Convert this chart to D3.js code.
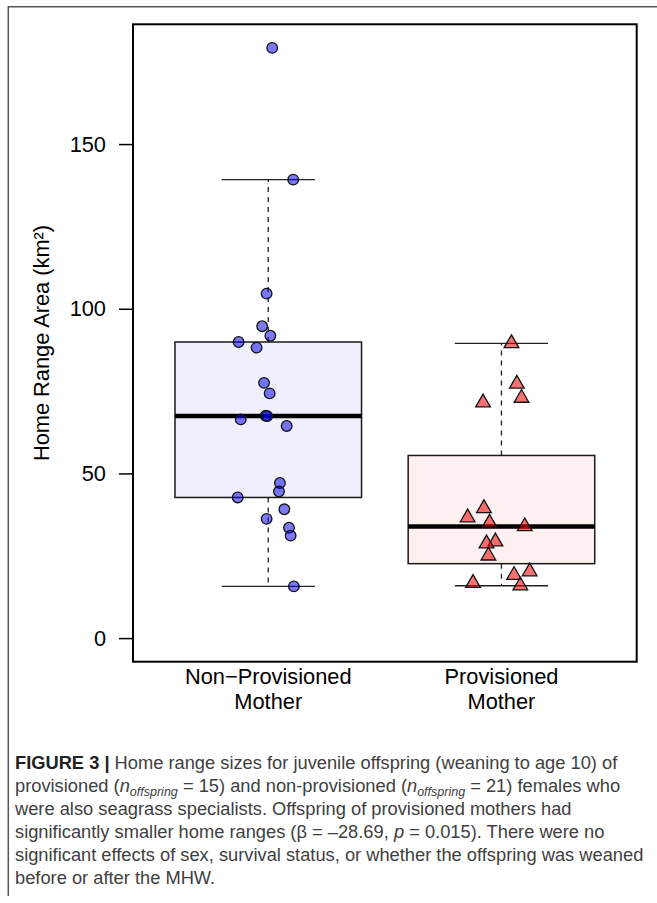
<!DOCTYPE html>
<html lang="en">
<head>
  <meta charset="UTF-8">
  <title>Home range area boxplot</title>
  <script src="https://cdnjs.cloudflare.com/ajax/libs/d3/7.8.5/d3.min.js"></script>
  <style>
    body { margin: 0; background: #fff; }
    svg { display: block; font-family: "Liberation Sans", Arial, sans-serif; }
    .tick-label, .cat-label, .y-title { font-size: 21.8px; fill: #000; }
    .caption { font-size: 18.3px; fill: #404040; }
  </style>
</head>
<body>
  <svg id="chart" width="657" height="903"></svg>
  <script>
    // groups on the x axis (R style positions 1 and 2)
    var categories = [["Non\u2212Provisioned", "Mother"], ["Provisioned", "Mother"]]

    // home range area (km²)
    var nonProvValues = [179.2, 139.2, 104.6, 94.7, 91.8, 89.9, 88.2, 77.5, 74.3, 67.5, 67.4,
                         66.4, 64.4, 47.1, 44.5, 42.7, 39.1, 36.2, 33.5, 31.1, 15.7]
    // horizontal jitter of each point, in group units
    var nonProvJitter = [0.017, 0.107, -0.007, -0.026, 0.009, -0.127, -0.050, -0.018, 0.006, -0.011, -0.004,
                         -0.118, 0.079, 0.050, 0.046, -0.131, 0.069, -0.007, 0.089, 0.096, 0.110]

    var provValues = [89.5, 77.2, 72.9, 71.5, 39.4, 36.6, 35.0, 33.9, 29.3, 28.7, 25.0, 20.2, 19.1, 16.7, 15.9]
    var provJitter = [0.043, 0.066, 0.086, -0.079, -0.075, -0.145, -0.051, 0.100, -0.026, -0.064,
                      -0.056, 0.121, 0.054, -0.122, 0.081]

    var yTicks = [0, 50, 100, 150]

    var groups = [
      { pos: 1, values: nonProvValues, jitter: nonProvJitter, shape: "circle",
        boxFill: "#f0f0fd", pointFill: "rgba(0,0,240,0.52)" },
      { pos: 2, values: provValues, jitter: provJitter, shape: "triangle",
        boxFill: "#fdf0f0", pointFill: "rgba(240,0,0,0.55)" }
    ]

    // R's fivenum (Tukey hinges)
    function fivenum(arr) {
      var x = arr.slice().sort(d3.ascending)
      var n = x.length
      var n4 = Math.floor((n + 3) / 2) / 2
      var d = [1, n4, (n + 1) / 2, n + 1 - n4, n]
      return d.map(function (k) {
        return 0.5 * (x[Math.floor(k) - 1] + x[Math.ceil(k) - 1])
      })
    }

    function boxStats(arr) {
      var f = fivenum(arr)
      var iqr = f[3] - f[1]
      var hi = d3.max(arr.filter(v => v <= f[3] + 1.5 * iqr))
      var lo = d3.min(arr.filter(v => v >= f[1] - 1.5 * iqr))
      return { lo: lo, q1: f[1], med: f[2], q3: f[3], hi: hi }
    }

    var plot = { left: 133, right: 636.7, top: 24.3, bottom: 661.7 }

    // R default: limits extended by 4% on each side
    var allVals = nonProvValues.concat(provValues)
    var yMax = d3.max(allVals), yMin = 0
    var yPad = (yMax - yMin) * 0.04
    var y = d3.scaleLinear()
      .domain([yMin - yPad, yMax + yPad])
      .range([plot.bottom, plot.top])

    var x = d3.scaleLinear()
      .domain([0.5 - 0.08, categories.length + 0.5 + 0.08])
      .range([plot.left, plot.right])

    var svg = d3.select("#chart")

    // figure frame (top and left edge only)
    svg.append("path")
      .attr("d", "M8.3,896 V6.7 H657")
      .attr("fill", "none")
      .attr("stroke", "#555")
      .attr("stroke-width", 1.5)

    var boxW = 0.8
    var unit = x(1) - x(0)

    var g = svg.append("g")

    groups.forEach(function (grp) {
      var s = boxStats(grp.values)
      var cx = x(grp.pos)
      var half = boxW / 2 * unit
      var g1 = g.append("g")

      // whiskers (dashed)
      g1.selectAll("line.whisker")
        .data([[s.q3, s.hi], [s.q1, s.lo]])
        .join("line")
        .attr("x1", cx).attr("x2", cx)
        .attr("y1", d => y(d[0])).attr("y2", d => y(d[1]))
        .attr("stroke", "#222").attr("stroke-width", 1.3)
        .attr("stroke-dasharray", "5,5")

      // staples
      g1.selectAll("line.staple")
        .data([s.hi, s.lo])
        .join("line")
        .attr("x1", cx - half / 2).attr("x2", cx + half / 2)
        .attr("y1", d => y(d)).attr("y2", d => y(d))
        .attr("stroke", "#222").attr("stroke-width", 1.3)

      // box
      g1.append("rect")
        .attr("x", cx - half)
        .attr("y", y(s.q3))
        .attr("width", 2 * half)
        .attr("height", y(s.q1) - y(s.q3))
        .attr("fill", grp.boxFill)
        .attr("stroke", "#1a1a1a")
        .attr("stroke-width", 1.5)

      // median
      g1.append("line")
        .attr("x1", cx - half).attr("x2", cx + half)
        .attr("y1", y(s.med)).attr("y2", y(s.med))
        .attr("stroke", "#000").attr("stroke-width", 4.5)
    })

    // jittered points on top
    groups.forEach(function (grp) {
      var pts = grp.values.map((v, i) => ({ v: v, j: grp.jitter[i] }))
      if (grp.shape === "circle") {
        g.append("g").selectAll("circle")
          .data(pts)
          .join("circle")
          .attr("cx", d => x(grp.pos + d.j))
          .attr("cy", d => y(d.v))
          .attr("r", 5.3)
          .attr("fill", grp.pointFill)
          .attr("stroke", "#111")
          .attr("stroke-width", 1.3)
      } else {
        var tri = d3.symbol().type(d3.symbolTriangle).size(93)
        g.append("g").selectAll("path")
          .data(pts)
          .join("path")
          .attr("d", tri)
          .attr("transform", d => "translate(" + x(grp.pos + d.j) + "," + y(d.v) + ")")
          .attr("fill", grp.pointFill)
          .attr("stroke", "#111")
          .attr("stroke-width", 1.3)
          .attr("stroke-linejoin", "miter")
      }
    })

    // plot frame
    svg.append("rect")
      .attr("x", plot.left).attr("y", plot.top)
      .attr("width", plot.right - plot.left)
      .attr("height", plot.bottom - plot.top)
      .attr("fill", "none")
      .attr("stroke", "#000")
      .attr("stroke-width", 2)

    // y axis: ticks and labels
    var yAxis = d3.axisLeft(y)
      .tickValues(yTicks)
      .tickSize(14)
      .tickPadding(13)
      .tickFormat(d3.format("d"))
    var ya = svg.append("g")
      .attr("transform", "translate(" + plot.left + ",0)")
      .call(yAxis)
    ya.select(".domain").remove()
    ya.selectAll(".tick line").attr("stroke", "#000").attr("stroke-width", 1.5)
    ya.selectAll(".tick text")
      .attr("class", "tick-label")
      .attr("font-family", null).attr("font-size", null)
      .attr("fill", "#000")

    svg.append("text")
      .attr("class", "y-title")
      .attr("transform", "translate(49," + (plot.top + plot.bottom) / 2 + ") rotate(-90)")
      .attr("text-anchor", "middle")
      .text("Home Range Area (km\u00b2)")

    // group labels (two lines)
    categories.forEach(function (lines, i) {
      var t = svg.append("text")
        .attr("class", "cat-label")
        .attr("text-anchor", "middle")
      lines.forEach(function (ln, k) {
        t.append("tspan")
          .attr("x", x(i + 1))
          .attr("y", 684 + k * 25)
          .text(ln)
      })
    })

    // caption
    var capX = 15, capY0 = 769, capLH = 23
    var cap = svg.append("g").attr("class", "caption")
    function capLine(k) {
      return cap.append("text").attr("x", capX).attr("y", capY0 + k * capLH)
    }
    function nOff(t, after) {
      t.append("tspan").attr("font-style", "italic").text("n")
      t.append("tspan").attr("font-style", "italic").attr("font-size", "12.5px")
        .attr("dy", 3.5).text("offspring")
      t.append("tspan").attr("dy", -3.5).text(after)
    }

    var l1 = capLine(0)
    l1.append("tspan").attr("font-weight", "bold").attr("fill", "#222").text("FIGURE 3 |")
    l1.append("tspan").text(" Home range sizes for juvenile offspring (weaning to age 10) of")

    var l2 = capLine(1)
    l2.append("tspan").text("provisioned (")
    nOff(l2, " = 15) and non-provisioned (")
    nOff(l2, " = 21) females who")

    capLine(2).text("were also seagrass specialists. Offspring of provisioned mothers had")

    var l4 = capLine(3)
    l4.append("tspan").text("significantly smaller home ranges (\u03b2 = \u201328.69, ")
    l4.append("tspan").attr("font-style", "italic").text("p")
    l4.append("tspan").text(" = 0.015). There were no")

    capLine(4).text("significant effects of sex, survival status, or whether the offspring was weaned")
    capLine(5).text("before or after the MHW.")
  </script>
</body>
</html>
